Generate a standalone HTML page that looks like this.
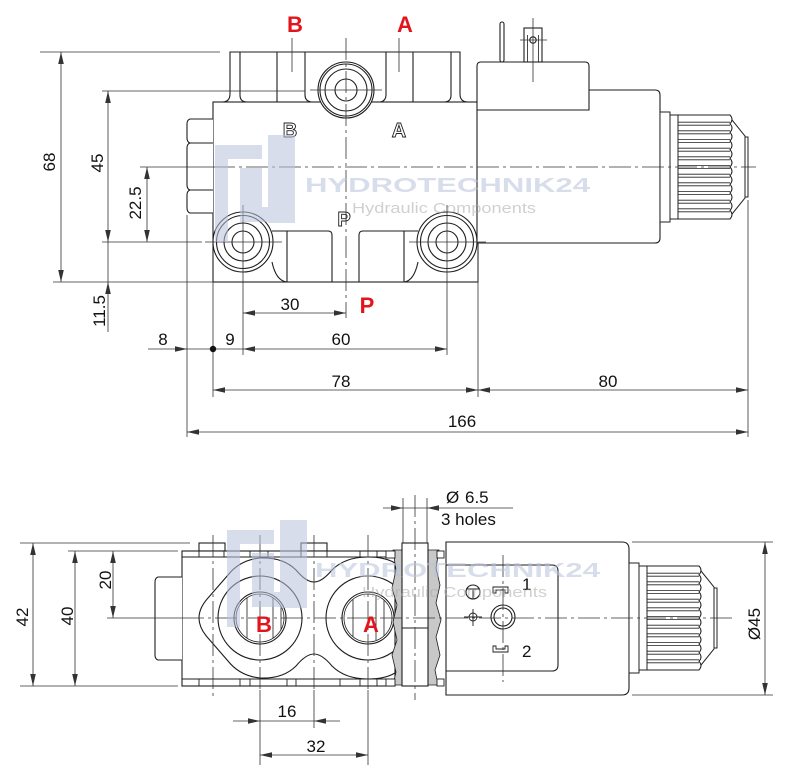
<!DOCTYPE html>
<html><head><meta charset="utf-8"><style>
html,body{margin:0;padding:0;background:#fff;}
svg{display:block;}
text{font-family:"Liberation Sans",Arial,sans-serif;}
</style></head><body>
<svg width="800" height="773" viewBox="0 0 800 773" xmlns="http://www.w3.org/2000/svg">
<defs>
 <g id="knob" fill="#fff" stroke="#222" stroke-width="1">
   <rect x="0" y="-55" width="10" height="110"/>
   <rect x="10" y="-52" width="8" height="104"/>
   <path d="M68,-52 L85,-31 V31 L68,52" fill="none"/>
   <rect x="85" y="-30" width="3" height="60"/>
   <path d="M18,-52 L70,-52 Q74,-47.67 70,-43.33 Q74,-39 70,-34.67 Q74,-30.33 70,-26 Q74,-21.67 70,-17.33 Q74,-13 70,-8.67 Q74,-4.33 70,0 Q74,4.33 70,8.67 Q74,13 70,17.33 Q74,21.67 70,26 Q74,30.33 70,34.67 Q74,39 70,43.33 Q74,47.67 70,52 L18,52 Z"/>
   <path fill="none" stroke-width="0.8" d="M18,-44.8H70M18,-41.8H70M18,-36.2H70M18,-33.2H70M18,-27.5H70M18,-24.5H70M18,-18.8H70M18,-15.8H70M18,-10.2H70M18,-7.2H70M18,-1.5H70M18,1.5H70M18,7.2H70M18,10.2H70M18,15.8H70M18,18.8H70M18,24.5H70M18,27.5H70M18,33.2H70M18,36.2H70M18,41.8H70M18,44.8H70"/>
 </g>
</defs>

<!-- ================= TOP VIEW ================= -->
<g stroke="#1e1e1e" stroke-width="1.1" fill="#fff">
  <!-- bosses -->
  <path d="M222,102 Q230,102 230,94 V52 H460 V94 Q460,102 468,102 Z"/>
  <!-- body -->
  <rect x="213" y="102" width="265" height="180"/>
  <path fill="none" d="M240,52 V95 Q240,102 247,102 M277,52 V102 M305,52 V95 Q305,101 311,102 M386,52 V95 Q386,101 380,102 M413,52 V102 M451,52 V95 Q451,102 444,102"/>
  <!-- hex nut -->
  <rect x="187" y="119" width="26" height="94" stroke="none"/>
  <path fill="none" d="M213,119 H190 Q187,120 187,124 V138 Q187,142 190,143 H213 M190,143 Q187,144 187,148 V185 Q187,189 190,190 H213 M190,190 Q187,191 187,195 V208 Q187,212 190,213 H213"/>
  <!-- top port -->
  <circle cx="346" cy="90" r="28"/>
  <circle cx="346" cy="90" r="26" fill="none"/>
  <circle cx="346" cy="90" r="21" fill="none"/>
  <circle cx="346" cy="90" r="11" fill="none"/>
  <!-- bottom mounting bosses -->
  <circle cx="243" cy="242" r="30"/>
  <circle cx="243" cy="242" r="26.5" fill="none"/>
  <circle cx="243" cy="242" r="19" fill="none"/>
  <circle cx="243" cy="242" r="11" fill="none"/>
  <circle cx="447" cy="242" r="30"/>
  <circle cx="447" cy="242" r="26.5" fill="none"/>
  <circle cx="447" cy="242" r="19" fill="none"/>
  <circle cx="447" cy="242" r="11" fill="none"/>
  <!-- P slots -->
  <path fill="none" d="M272,231 H328 Q332,231 332,235 V282 M287,231 V282 M418,231 H363 Q359,231 359,235 V282 M404,231 V282 M272,262 Q276,281 287,282 M418,262 Q414,281 404,282"/>
  <!-- coil -->
  <path d="M477,243 V66 Q477,62 481,62 H585 Q589,62 589,66 V90 H655 Q660,90 660,95 V238 Q660,243 655,243 Z"/>
  <path fill="none" d="M477,110 H589 V90"/>
  <!-- terminals -->
  <rect x="500" y="22" width="4" height="40" rx="2"/>
  <rect x="524" y="28" width="18" height="34"/>
  <path fill="none" stroke-width="0.8" d="M527.5,35 V62 M538.5,35 V62"/>
  <circle cx="533" cy="40" r="3.2"/>
</g>
<use href="#knob" transform="translate(660,167)"/>

<!-- body labels (outline) -->
<g font-size="20" font-weight="bold" fill="#fff" stroke="#222" stroke-width="0.9" text-anchor="middle">
  <text x="290" y="137">B</text>
  <text x="399" y="137">A</text>
  <text x="344" y="226">P</text>
</g>

<!-- top view center lines -->
<g stroke="#333" stroke-width="0.8" fill="none" stroke-dasharray="22 4 3 4">
  <path d="M213,167 H756"/>
  <path d="M346,38 V318"/>
</g>
<g stroke="#333" stroke-width="0.8" fill="none">
  <path d="M292,38 V72 M399,38 V72"/>
  <path d="M520,40 H547 M533,18 V82"/>
  <path d="M310,90 H382"/>
  <path d="M205,242 H282 M409,242 H486"/>
  <!-- extension lines -->
  <path d="M40,52 H220 M102,91 H305 M140,167 H213 M102,242 H202 M53,282 H213"/>
  <path d="M187,215 V437 M213,282 V397 M243,205 V355 M447,205 V355 M478,243 V397 M748,200 V437"/>
  <!-- dimension lines -->
  <path d="M61,52 V282 M108,91 V332 M147,167 V242 M243,313 H346 M148,349 H447 M213,390 H748 M187,432 H748"/>
</g>
<g fill="#333">
  <polygon points="61,52 58.2,64 63.8,64"/>
  <polygon points="61,282 58.2,270 63.8,270"/>
  <polygon points="108,91 105.2,103 110.8,103"/>
  <polygon points="108,242 105.2,230 110.8,230"/>
  <polygon points="108,282 105.2,294 110.8,294"/>
  <polygon points="147,167 144.2,179 149.8,179"/>
  <polygon points="147,242 144.2,230 149.8,230"/>
  <polygon points="243,313 255,310.2 255,315.8"/>
  <polygon points="346,313 334,310.2 334,315.8"/>
  <polygon points="187,349 175,346.2 175,351.8"/>
  <polygon points="243,349 255,346.2 255,351.8"/>
  <polygon points="447,349 435,346.2 435,351.8"/>
  <polygon points="213,390 225,387.2 225,392.8"/>
  <polygon points="478,390 466,387.2 466,392.8"/>
  <polygon points="478,390 490,387.2 490,392.8"/>
  <polygon points="748,390 736,387.2 736,392.8"/>
  <polygon points="187,432 199,429.2 199,434.8"/>
  <polygon points="748,432 736,429.2 736,434.8"/>
  <circle cx="213" cy="349" r="3.2" fill="#111"/>
</g>
<g font-size="17" fill="#111" text-anchor="middle">
  <text transform="translate(55,162) rotate(-90)">68</text>
  <text transform="translate(103,163) rotate(-90)">45</text>
  <text transform="translate(141,203) rotate(-90)">22.5</text>
  <text transform="translate(105,311) rotate(-90)">11.5</text>
  <text x="163" y="345">8</text>
  <text x="230" y="345">9</text>
  <text x="341" y="345">60</text>
  <text x="290" y="310">30</text>
  <text x="341" y="387">78</text>
  <text x="608" y="387">80</text>
  <text x="462" y="427">166</text>
</g>
<g font-size="22" font-weight="bold" fill="#e3141b" text-anchor="middle">
  <text x="295" y="32">B</text>
  <text x="405" y="32">A</text>
  <text x="367" y="313">P</text>
</g>

<!-- ================= BOTTOM VIEW ================= -->
<g stroke="#1e1e1e" stroke-width="1.1" fill="#fff">
  <rect x="199" y="543" width="26" height="8"/>
  <rect x="301" y="543" width="26" height="8"/>
  <rect x="182" y="551" width="213" height="135"/>
  <path fill="none" d="M182,557 H395 M182,679 H395"/>
  <path fill="none" stroke-width="0.9" d="M199,551V557 M224,551V557 M250,551V557 M268,551V557 M301,551V557 M327,551V557 M360,551V557 M377,551V557 M199,679V686 M240,679V686 M250,679V686 M287,679V686 M296,679V686 M340,679V686 M360,679V686 M377,679V686"/>
  <!-- hex -->
  <path d="M182,577 H158 Q155,578 155,582 V655 Q155,659 158,660 H182"/>
  <!-- lobe -->
  <path d="M199,618 Q199,608 208,598 L228,575 Q240,560 260,558 Q283,557 296,570 Q306,582 314,582 Q322,582 332,570 Q345,557 368,557 Q385,557 395,563 L395,673 Q385,679 368,679 Q345,679 332,666 Q322,654 314,654 Q306,654 296,666 Q283,679 260,678 Q240,676 228,661 L208,638 Q199,628 199,618 Z"/>
  <circle cx="260" cy="618" r="42" fill="none"/>
  <circle cx="260" cy="618" r="26"/>
  <circle cx="260" cy="618" r="24" fill="none" stroke-width="0.8"/>
  <path fill="none" stroke-width="0.8" d="M247,598 V638 M273,598 V638 M281,606 V630"/>
  <circle cx="368" cy="618" r="42" fill="none"/>
  <circle cx="368" cy="618" r="26"/>
  <circle cx="368" cy="618" r="24" fill="none" stroke-width="0.8"/>
  <path fill="none" stroke-width="0.8" d="M353,599 V637 M376,596 V640 M384,600 V636"/>
  <!-- grey section -->
  <path fill="#c8c8c8" stroke-width="0.8" d="M402,550 V685 H393 L396,672 L392,655 L397,640 L393,622 L397,605 L392,588 L396,570 L393,550 Z"/>
  <path fill="#c8c8c8" stroke-width="0.8" d="M428,550 V685 H438 L435,670 L440,655 L436,637 L441,620 L436,603 L440,585 L436,568 L439,550 Z"/>
  <rect x="386" y="551" width="9" height="7" stroke-width="0.9"/>
  <rect x="386" y="679" width="9" height="7" stroke-width="0.9"/>
  <rect x="437" y="551" width="7" height="7" stroke-width="0.9"/>
  <rect x="437" y="679" width="7" height="7" stroke-width="0.9"/>
  <rect x="402" y="543" width="26" height="143"/>
  <path fill="none" d="M402,628 H428"/>
  <!-- coil -->
  <path d="M446,542 H622 Q629,542 629,549 V688 Q629,695 622,695 H446 Z"/>
  <path fill="none" d="M446,565 H552 Q558,565 558,571 V665 Q558,671 552,671 H446"/>
  <!-- connector symbols -->
  <circle cx="473" cy="592" r="7" fill="none"/>
  <path fill="none" stroke-width="0.9" d="M467,589 H479 M473,589 V599"/>
  <circle cx="473" cy="617" r="4" fill="none" stroke-width="0.9"/>
  <path fill="none" stroke-width="0.9" d="M464,617 H482 M473,609 V626"/>
  <circle cx="503" cy="617" r="12" fill="none"/>
  <circle cx="503" cy="617" r="9" fill="none"/>
  <path fill="none" stroke-width="0.9" d="M493,593 V587 H508 V593 H505 V590 H496 V593 Z M493,646 V652 H508 V646 H505 V649 H496 V646 Z"/>
</g>
<use href="#knob" transform="translate(629,618)"/>

<!-- bottom center lines -->
<g stroke="#333" stroke-width="0.8" fill="none" stroke-dasharray="22 4 3 4">
  <path d="M182,618 H735"/>
  <path d="M213,535 V700 M260,535 V690 M314,535 V690 M368,535 V690 M503,555 V682 M415,495 V700"/>
</g>
<g stroke="#333" stroke-width="0.8" fill="none">
  <path d="M107,618 H182"/>
  <path d="M20,543 H190 M20,686 H178 M68,551 H178"/>
  <path d="M260,690 V765 M368,690 V765 M314,690 V728"/>
  <path d="M33,543 V686 M75,551 V686 M113,551 V618 M233,721 H340 M260,755 H368"/>
  <path d="M403,498 V543 M427,498 V543 M383,508 H513"/>
  <path d="M632,542 H773 M632,695 H773 M765,542 V695"/>
</g>
<g fill="#333">
  <polygon points="33,543 30.2,555 35.8,555"/>
  <polygon points="33,686 30.2,674 35.8,674"/>
  <polygon points="75,551 72.2,563 77.8,563"/>
  <polygon points="75,686 72.2,674 77.8,674"/>
  <polygon points="113,551 110.2,563 115.8,563"/>
  <polygon points="113,618 110.2,606 115.8,606"/>
  <polygon points="260,721 248,718.2 248,723.8"/>
  <polygon points="314,721 326,718.2 326,723.8"/>
  <polygon points="260,755 272,752.2 272,757.8"/>
  <polygon points="368,755 356,752.2 356,757.8"/>
  <polygon points="403,508 391,505.2 391,510.8"/>
  <polygon points="427,508 439,505.2 439,510.8"/>
  <polygon points="765,542 762.2,554 767.8,554"/>
  <polygon points="765,695 762.2,683 767.8,683"/>
</g>
<g font-size="17" fill="#111" text-anchor="middle">
  <text transform="translate(28,617) rotate(-90)">42</text>
  <text transform="translate(73,616) rotate(-90)">40</text>
  <text transform="translate(111,580) rotate(-90)">20</text>
  <text transform="translate(760,624) rotate(-90)">Ø45</text>
  <text x="287" y="717">16</text>
  <text x="316" y="752">32</text>
</g>
<g font-size="17" fill="#111">
  <text x="446" y="503">Ø</text>
  <text x="465" y="503">6.5</text>
  <text x="441" y="525">3 holes</text>
  <text x="522" y="590">1</text>
  <text x="522" y="657">2</text>
</g>
<g font-size="22" font-weight="bold" fill="#e3141b" text-anchor="middle">
  <text x="264" y="632">B</text>
  <text x="371" y="632">A</text>
</g>

<!-- ================= WATERMARKS ================= -->
<g opacity="0.55" fill="#b9c2dd">
  <rect x="215" y="145" width="47" height="14"/>
  <rect x="215" y="145" width="13" height="97"/>
  <rect x="240" y="168" width="22" height="45"/>
  <rect x="268" y="135" width="27" height="88"/>
  <rect x="240" y="207" width="55" height="15"/>
  <g transform="translate(12,385)">
    <rect x="215" y="145" width="47" height="14"/>
    <rect x="215" y="145" width="13" height="97"/>
    <rect x="240" y="168" width="22" height="45"/>
    <rect x="268" y="135" width="27" height="88"/>
    <rect x="240" y="207" width="55" height="15"/>
  </g>
  <text x="305" y="192" font-family="Liberation Serif, serif" font-weight="bold" font-size="20" textLength="285" lengthAdjust="spacingAndGlyphs">HYDROTECHNIK24</text>
  <text x="315" y="577" font-family="Liberation Serif, serif" font-weight="bold" font-size="20" textLength="285" lengthAdjust="spacingAndGlyphs">HYDROTECHNIK24</text>
</g>
<g fill="#aaaaaa" opacity="0.55" font-size="15">
  <text x="352" y="213" textLength="184" lengthAdjust="spacingAndGlyphs">Hydraulic Components</text>
  <text x="362" y="597" textLength="185" lengthAdjust="spacingAndGlyphs">Hydraulic Components</text>
</g>
</svg>
</body></html>
